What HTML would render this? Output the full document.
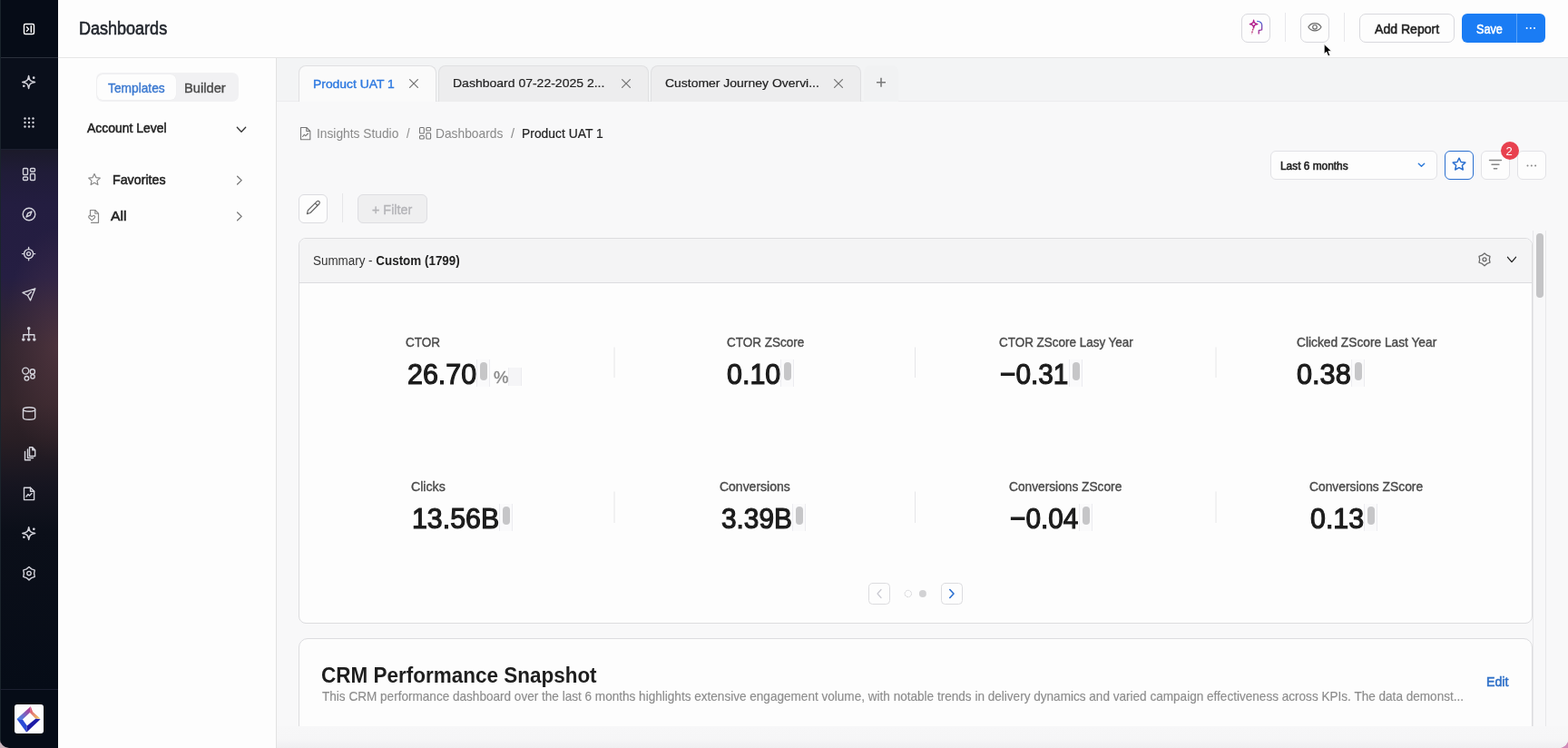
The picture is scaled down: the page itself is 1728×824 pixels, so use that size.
<!DOCTYPE html>
<html><head><meta charset="utf-8">
<style>
*{box-sizing:border-box;margin:0;padding:0}
html,body{width:1728px;height:824px;overflow:hidden}
body{background:linear-gradient(90deg,#c8b2ba 0,#b898b0 50%,#d08ab8 100%);font-family:"Liberation Sans",sans-serif;color:#222;position:relative}
.abs{position:absolute}
#side{left:0;top:0;width:64px;height:824px;border-bottom-left-radius:10px;overflow:hidden;
 background:#060c17}
#side .grad{left:0;top:165px;width:64px;height:594px;
 background:
 radial-gradient(ellipse 60px 130px at 64px 215px, rgba(130,80,90,.32), rgba(130,80,90,0) 100%),
 linear-gradient(180deg,#1b1a2a 0px,#201c38 25px,#231d40 60px,#251e42 140px,#2c2238 175px,#32252f 215px,#32242a 280px,#281e24 320px,#161520 370px,#0b0f19 420px,#060c17 594px)}
#side .ln{left:0;width:64px;height:1px;background:#2b303c}
#side svg{position:absolute}
#main{left:64px;top:0;width:1664px;height:824px;background:#f7f7f8;border-bottom-right-radius:10px;overflow:hidden}
#hdr{left:0;top:0;width:1664px;height:64px;background:#fdfdfd;border-bottom:1px solid #e6e6e6}
#lp{left:0;top:64px;width:241px;height:760px;background:#fdfdfd;border-right:1px solid #e2e2e2}
#ct{left:241px;top:64px;width:1423px;height:760px;background:#f8f8f9}
.t{position:absolute;white-space:nowrap;line-height:1;z-index:2}
.btn{position:absolute;border:1px solid #d9d9de;border-radius:6px;background:#fdfdfd}
svg{position:absolute;overflow:visible}
.lab{font-size:14.5px;color:#4a4a4a;-webkit-text-stroke:0.4px #4a4a4a}
.val{font-size:32px;font-weight:normal;-webkit-text-stroke:1.2px #1c1c1c;color:#1c1c1c}
.pill{position:absolute;width:8px;height:20px;border-radius:4px;background:#c6c6c8}
.pbox{position:absolute;border-left:1px solid #ececf0;border-right:1px solid #ececf0;background:#fafafb}
.tab{border:1px solid #e0e0e2;border-bottom:none;border-radius:8px 8px 0 0}
</style></head><body>
<!-- SIDEBAR -->
<div id="side" class="abs">
  <div class="abs" style="left:0;top:64px;width:64px;height:100px;background:#0a0f1b"></div>
  <div class="grad abs"></div>
  <div class="ln abs" style="top:63px"></div>
  <div class="abs" style="left:0;top:0;width:1px;height:824px;background:#1a242c"></div>
  <div class="ln abs" style="top:164px;background:#1c2030"></div>
  <div class="ln abs" style="top:759px;background:#1c2030"></div>
  <svg width="64" height="824" style="left:0;top:0" fill="none" stroke="#d4d4dc" stroke-width="1.4" stroke-linecap="round" stroke-linejoin="round">
    <!-- collapse -->
    <rect x="26.5" y="26.5" width="11" height="11" rx="1.5" stroke="#fff" stroke-width="1.4"/>
    <path d="M29.5 29.8 L31.6 32 L29.5 34.2" stroke="#fff" stroke-width="1.3"/>
    <path d="M34.3 28.8 V35.2" stroke="#fff" stroke-width="1.5"/>
    <!-- sparkle 1 -->
    <path d="M31.6 83.6 C32.2 88.3 33.2 89.6 38.5 90.5 C33.2 91.4 32.2 92.7 31.6 97.4 C31 92.7 30 91.4 24.7 90.5 C30 89.6 31 88.3 31.6 83.6Z" stroke-width="1.5"/>
    <circle cx="37.2" cy="85.7" r="1.35" fill="#d4d4dc" stroke="none"/>
    <circle cx="26.3" cy="94.7" r="1.3" fill="#d4d4dc" stroke="none"/>
    <!-- grid dots -->
    <g fill="#d4d4dc" stroke="none">
      <circle cx="27.5" cy="130.5" r="1.2"/><circle cx="32" cy="130.5" r="1.2"/><circle cx="36.5" cy="130.5" r="1.2"/>
      <circle cx="27.5" cy="135" r="1.2"/><circle cx="32" cy="135" r="1.2"/><circle cx="36.5" cy="135" r="1.2"/>
      <circle cx="27.5" cy="139.5" r="1.2"/><circle cx="32" cy="139.5" r="1.2"/><circle cx="36.5" cy="139.5" r="1.2"/>
    </g>
    <!-- dashboards -->
    <rect x="25.5" y="185.5" width="5" height="7" rx="1"/>
    <rect x="33.5" y="185.5" width="5" height="3.5" rx="1"/>
    <rect x="25.5" y="195" width="5" height="3.5" rx="1"/>
    <rect x="33.5" y="191.5" width="5" height="7" rx="1"/>
    <!-- compass -->
    <circle cx="32" cy="236" r="6.8"/>
    <path d="M35 233 L33.2 237.2 L29 239 L30.8 234.8Z"/>
    <!-- target -->
    <circle cx="31.6" cy="279.6" r="5"/>
    <circle cx="31.6" cy="279.6" r="2"/>
    <path d="M31.6 272.5 V274.6 M31.6 284.6 V286.7 M24.5 279.6 H26.6 M36.6 279.6 H38.7"/>
    <!-- send -->
    <path d="M38.8 317.8 L25 322.5 L30.5 325.5 L33.5 331 Z M30.5 325.5 L34.5 321.5"/>
    <!-- hierarchy -->
    <g fill="#d4d4dc" stroke="none">
      <circle cx="31.7" cy="361.7" r="1.8"/>
      <circle cx="25.8" cy="374" r="1.8"/><circle cx="31.7" cy="374" r="1.8"/><circle cx="37.8" cy="374" r="1.8"/>
    </g>
    <path d="M31.7 363.5 V371.5 M25.8 371.5 V368.8 H37.8 V371.5"/>
    <!-- circles -->
    <circle cx="28.2" cy="408.6" r="3.5"/>
    <circle cx="35.8" cy="409.4" r="2.6"/>
    <circle cx="29.4" cy="416.8" r="2.3"/>
    <circle cx="36" cy="414.8" r="2.2"/>
    <!-- database -->
    <ellipse cx="32.1" cy="451" rx="6.6" ry="2.2"/>
    <path d="M25.5 451 V460 C25.5 463 38.7 463 38.7 460 V451"/>
    <!-- copies -->
    <path d="M32.5 492.8 H35.8 L38.7 495.7 V502.5 H32.5 Z M35.8 492.8 V495.7 H38.7"/>
    <path d="M30.5 495 V504.5 H36.5"/>
    <path d="M27.5 497.5 V506.8 H33.5"/>
    <!-- report -->
    <path d="M26.5 537.2 H33.5 L37.6 541.3 V550.6 H26.5 Z"/>
    <path d="M33.5 537.2 V541.3 H37.6"/>
    <path d="M29 547 L31 544.5 L32.5 546 L35 543.5"/>
    <!-- sparkle 2 -->
    <path d="M31.7 580.7 C32.3 585.4 33.3 586.7 38.6 587.6 C33.3 588.5 32.3 589.8 31.7 594.5 C31.1 589.8 30.1 588.5 24.8 587.6 C30.1 586.7 31.1 585.4 31.7 580.7Z" stroke-width="1.5"/>
    <circle cx="37.3" cy="582.8" r="1.35" fill="#d4d4dc" stroke="none"/>
    <circle cx="26.4" cy="591.8" r="1.3" fill="#d4d4dc" stroke="none"/>
    <!-- gear -->
    <path d="M32.00 624.50 L34.80 626.85 L38.24 628.10 L37.60 631.70 L38.24 635.30 L34.80 636.55 L32.00 638.90 L29.20 636.55 L25.76 635.30 L26.40 631.70 L25.76 628.10 L29.20 626.85 Z"/>
    <circle cx="32" cy="631.6" r="2.2"/>
  </svg>
  <!-- logo -->
  <div class="abs" style="left:16px;top:776px;width:32px;height:32px;background:#fdfdfd;border-radius:3px"></div>
  <svg width="64" height="824" style="left:0;top:0">
    <defs>
      <linearGradient id="lgA" x1="0" y1="1" x2="1" y2="0"><stop offset="0" stop-color="#3a8ef0"/><stop offset="1" stop-color="#c2308a"/></linearGradient>
      <linearGradient id="lgB" x1="0" y1="0" x2="1" y2="1"><stop offset="0" stop-color="#d8407a"/><stop offset="1" stop-color="#f2d060"/></linearGradient>
    </defs>
    <polygon points="18.5,792.1 33.8,778.2 32.9,785 24.9,792.4" fill="url(#lgA)"/>
    <polygon points="33.8,778.2 36.2,784.2 44.3,791.4 39.3,791.8 32.9,785" fill="url(#lgB)"/>
    <polygon points="18.5,792.1 24.9,792.4 29.8,799.6 29.2,806.8" fill="#2a4ad6"/>
    <polygon points="29.2,806.8 29.8,799.6 39.3,791.8 44.6,792.3" fill="#1c1aa6"/>
  </svg>
</div>
<div id="main" class="abs">
  <div id="hdr" class="abs">
    <div class="t" id="tDash" style="left:23.46px;top:21.30px;font-size:20px;font-weight:normal;-webkit-text-stroke:0.6px currentColor;color:#22262d;transform:scaleX(0.9009);transform-origin:0 0">Dashboards</div>
    <div class="btn" style="left:1304px;top:15px;width:32px;height:32px;border-radius:7px"></div>
    <div class="abs" style="left:1352px;top:14px;width:1px;height:32px;background:#e8e8ec"></div>
    <div class="btn" style="left:1369px;top:15px;width:32px;height:32px;border-radius:7px"></div>
    <div class="abs" style="left:1417px;top:14px;width:1px;height:32px;background:#e8e8ec"></div>
    <div class="btn" style="left:1434px;top:15px;width:105px;height:32px;border-radius:7px"></div>
    <div class="t" id="tAdd" style="left:1451.40px;top:23.80px;font-size:15px;font-weight:normal;-webkit-text-stroke:0.55px currentColor;color:#222;transform:scaleX(0.9381);transform-origin:0 0">Add Report</div>
    <div class="abs" style="left:1547px;top:15px;width:92px;height:32px;border-radius:6px;background:#1a7cf4"></div>
    <div class="abs" style="left:1607px;top:15px;width:1px;height:32px;background:#5aa2f8"></div>
    <div class="t" id="tSave" style="left:1563.15px;top:23.50px;font-size:15px;font-weight:normal;-webkit-text-stroke:0.55px currentColor;color:#fff;transform:scaleX(0.8442);transform-origin:0 0">Save</div>
    <svg width="1664" height="64" style="left:0;top:0">
      <g fill="#fff"><circle cx="1618.6" cy="31" r="1"/><circle cx="1622.8" cy="31" r="1"/><circle cx="1627" cy="31" r="1"/></g>
      <!-- eye -->
      <path d="M1377.9 29.8 C1381 24.3 1389 24.3 1392 29.8 C1389 35.3 1381 35.3 1377.9 29.8Z" fill="none" stroke="#6a6a6a" stroke-width="1.2"/>
      <circle cx="1385" cy="29.8" r="2.3" fill="none" stroke="#6a6a6a" stroke-width="1.2"/>
      <!-- AI icon -->
      <defs><linearGradient id="aiG" x1="0" y1="0" x2="0" y2="1"><stop offset="0" stop-color="#4a6ad8"/><stop offset="1" stop-color="#b0208a"/></linearGradient></defs>
      <path d="M1317.6 22.3 C1318 25.3 1318.6 26 1321.8 26.6 C1318.6 27.2 1318 27.9 1317.6 30.9 C1317.2 27.9 1316.6 27.2 1313.4 26.6 C1316.6 26 1317.2 25.3 1317.6 22.3Z" fill="none" stroke="#b01e8c" stroke-width="1.4" stroke-linejoin="round"/>
      <path d="M1317 31.6 L1315.4 37.4" stroke="#b8286e" stroke-width="1.3" stroke-dasharray="2 0.9"/>
      <path d="M1321.2 23.3 C1325 23.2 1326.8 25.5 1326.7 28 L1326.6 32.8 L1323.3 33.5 L1323.2 37.4" fill="none" stroke="url(#aiG)" stroke-width="1.3"/>
      <!-- cursor -->
      <path d="M1395.2 48.6 L1395.2 59.6 L1397.8 57.2 L1399.7 61.8 L1401.8 60.9 L1399.9 56.4 L1403.4 56.2 Z" fill="#000" stroke="#fff" stroke-width="0.9" stroke-linejoin="round"/>
    </svg>
  </div>
  <div id="lp" class="abs">
    <div class="abs" style="left:42px;top:16px;width:157px;height:32px;border-radius:7px;background:#f1f1f3"></div>
    <div class="abs" style="left:43px;top:18px;width:87px;height:28px;border-radius:6px;background:#fdfdfd;box-shadow:0 0 1px rgba(0,0,0,.08)"></div>
    <div class="t" id="tTpl" style="left:54.88px;top:24.70px;font-size:15px;color:#3a78d0;font-weight:normal;-webkit-text-stroke:0.4px currentColor;transform:scaleX(0.9176);transform-origin:0 0">Templates</div>
    <div class="t" id="tBld" style="left:139.12px;top:24.70px;font-size:15px;color:#4a4a4a;font-weight:normal;-webkit-text-stroke:0.4px currentColor;transform:scaleX(0.9783);transform-origin:0 0">Builder</div>
    <div class="t" id="tAcc" style="left:31.93px;top:68.60px;font-size:15px;font-weight:normal;-webkit-text-stroke:0.55px currentColor;color:#222;transform:scaleX(0.9288);transform-origin:0 0">Account Level</div>
    <div class="t" id="tFav" style="left:59.55px;top:125.80px;font-size:15px;font-weight:normal;-webkit-text-stroke:0.55px currentColor;color:#222;transform:scaleX(0.9492);transform-origin:0 0">Favorites</div>
    <div class="t" id="tAll" style="left:58.17px;top:165.80px;font-size:15px;font-weight:normal;-webkit-text-stroke:0.55px currentColor;color:#222;transform:scaleX(1.0511);transform-origin:0 0">All</div>
    <svg width="241" height="300" style="left:0;top:0" fill="none" stroke="#444" stroke-width="1.3" stroke-linecap="round" stroke-linejoin="round">
      <path d="M197.3 76.3 L202 81.3 L206.7 76.3" stroke="#333"/>
      <path d="M197.6 130.2 L202.2 134.6 L197.6 139" stroke="#777"/>
      <path d="M197.6 170 L202.2 174.4 L197.6 178.8" stroke="#777"/>
      <!-- star -->
      <path d="M40 127.5 L41.9 131.6 L46.3 132.1 L43 135.1 L43.9 139.5 L40 137.3 L36.1 139.5 L37 135.1 L33.7 132.1 L38.1 131.6 Z" stroke="#888" stroke-width="1.2"/>
      <!-- all icon -->
      <path d="M35.5 173.5 V167.5 H40.8 L44.5 171.2 V181.3 H36.5" stroke="#888" stroke-width="1.2"/>
      <path d="M40.8 167.5 V171.2 H44.5" stroke="#888" stroke-width="1.1"/>
      <path d="M37.2 178.8 L34.2 176 C33 174.8 34 173.2 35.3 173.6 L37.2 174.6 L39.1 173.6 C40.4 173.2 41.4 174.8 40.2 176 Z" stroke="#888" stroke-width="1.1"/>
    </svg>
  </div>
  <div id="ct" class="abs"></div>
  <div id="L" class="abs" style="left:-64px;top:0;width:1728px;height:824px">
    <div class="abs" style="left:305px;top:64px;width:1423px;height:48px;background:#f3f4f5;border-bottom:1px solid #ececee"></div>
    <!-- tabs -->
    <div class="abs tab" style="left:329px;top:72px;width:152px;height:40px;background:#fafafa"></div>
    <div class="abs tab" style="left:483px;top:72px;width:232px;height:40px;background:#ededee"></div>
    <div class="abs tab" style="left:717px;top:72px;width:232px;height:40px;background:#ededee"></div>
    <div class="abs" style="left:952px;top:72px;width:38px;height:40px;background:#f1f2f3;border-radius:8px 8px 0 0"></div>
    <div class="t" id="tT1" style="left:345.29px;top:85.70px;font-size:13.5px;color:#2f7ae0;font-weight:normal;-webkit-text-stroke:0.4px currentColor;transform:scaleX(1.0291);transform-origin:0 0">Product UAT 1</div>
    <div class="t" id="tT2" style="left:498.84px;top:84.90px;font-size:13.5px;color:#222;transform:scaleX(1.0371);transform-origin:0 0;-webkit-text-stroke:0.2px currentColor">Dashboard 07-22-2025 2...</div>
    <div class="t" id="tT3" style="left:733.02px;top:84.90px;font-size:13.5px;color:#222;transform:scaleX(1.0338);transform-origin:0 0;-webkit-text-stroke:0.2px currentColor">Customer Journey Overvi...</div>
    <svg width="1728" height="824" style="left:0;top:0" fill="none" stroke-linecap="round" stroke-linejoin="round">
      <path d="M451.6 87.6 L460.4 96.4 M460.4 87.6 L451.6 96.4" stroke="#777" stroke-width="1.3"/>
      <path d="M685.6 87.6 L694.4 96.4 M694.4 87.6 L685.6 96.4" stroke="#777" stroke-width="1.3"/>
      <path d="M919.6 87.6 L928.4 96.4 M928.4 87.6 L919.6 96.4" stroke="#777" stroke-width="1.3"/>
      <path d="M971 85.8 V95.8 M966 90.8 H976" stroke="#7a7a7a" stroke-width="1.6" stroke-linecap="butt"/>
    </svg>
    <!-- breadcrumb -->
    <div class="t" id="tB1" style="left:348.86px;top:140.30px;font-size:14.5px;color:#8a8a8a;transform:scaleX(0.9496);transform-origin:0 0">Insights Studio</div>
    <div class="t" id="tS1" style="left:447.89px;top:140.30px;font-size:14.5px;color:#8a8a8a;transform:scaleX(0.8932);transform-origin:0 0">/</div>
    <div class="t" id="tB2" style="left:479.89px;top:140.30px;font-size:14.5px;color:#8a8a8a;transform:scaleX(0.9500);transform-origin:0 0">Dashboards</div>
    <div class="t" id="tS2" style="left:563.00px;top:140.30px;font-size:14.5px;color:#8a8a8a;transform:scaleX(1.0000);transform-origin:0 0">/</div>
    <div class="t" id="tB3" style="left:574.98px;top:140.30px;font-size:14.5px;color:#222;transform:scaleX(0.9571);transform-origin:0 0;-webkit-text-stroke:0.2px currentColor">Product UAT 1</div>
    <svg width="1728" height="824" style="left:0;top:0" fill="none" stroke="#777" stroke-width="1.1" stroke-linecap="round" stroke-linejoin="round">
      <path d="M331.5 140.5 H337.8 L341.8 144.5 V153.7 H331.5 Z M337.8 140.5 V144.5 H341.8"/>
      <path d="M333.5 150.5 L335.3 148.3 L336.8 149.6 L339.5 147"/>
      <rect x="462.5" y="140.5" width="4.8" height="6.5" rx="1"/>
      <rect x="469.8" y="140.5" width="4.8" height="3.5" rx="1"/>
      <rect x="462.5" y="149.5" width="4.8" height="3.5" rx="1"/>
      <rect x="469.8" y="146.5" width="4.8" height="6.5" rx="1"/>
    </svg>
    <!-- toolbar -->
    <div class="btn" style="left:1400px;top:166px;width:184px;height:32px;border-color:#e2e2e6"></div>
    <div class="t" id="tL6" style="left:1411.21px;top:176.70px;font-size:12px;font-weight:normal;-webkit-text-stroke:0.55px currentColor;color:#222;transform:scaleX(0.9895);transform-origin:0 0">Last 6 months</div>
    <div class="btn" style="left:1592px;top:166px;width:32px;height:32px;border:1.5px solid #2a6fd0;border-radius:6px"></div>
    <div class="btn" style="left:1632px;top:166px;width:32px;height:32px;border-color:#e2e2e6"></div>
    <div class="btn" style="left:1672px;top:166px;width:32px;height:32px;border-color:#e2e2e6"></div>
    <div class="abs" style="left:1654px;top:156px;width:20px;height:20px;border-radius:50%;background:#e8414f"></div>
    <div class="t" id="tBadge" style="left:1659.5px;top:160px;font-size:13px;color:#fff">2</div>
    <svg width="1728" height="824" style="left:0;top:0" fill="none" stroke-linecap="round" stroke-linejoin="round">
      <path d="M1563.3 180.3 L1566.5 183.3 L1569.7 180.3" stroke="#2a78d8" stroke-width="1.4"/>
      <path d="M1608 174.2 L1610.1 178.5 L1614.8 179.1 L1611.4 182.3 L1612.3 187 L1608 184.7 L1603.7 187 L1604.6 182.3 L1601.2 179.1 L1605.9 178.5 Z" stroke="#2a6fd0" stroke-width="1.5"/>
      <path d="M1641.5 176.5 H1654.5 M1644 181.3 H1652 M1646.3 185.8 H1649.7" stroke="#888" stroke-width="1.4"/>
      <g fill="#888" stroke="none"><circle cx="1683.5" cy="182.6" r="1"/><circle cx="1687.8" cy="182.6" r="1"/><circle cx="1692.1" cy="182.6" r="1"/></g>
    </svg>
    <!-- summary card -->
    <div class="abs" style="left:329px;top:262px;width:1360px;height:425px;border:1px solid #dcdcdf;border-radius:8px;background:#fdfdfd;overflow:hidden">
      <div class="abs" style="left:0;top:0;width:1358px;height:49px;background:#f4f4f5;border-bottom:1px solid #dcdcdf"></div>
    </div>
    <div class="t" id="tSum" style="left:344.99px;top:279.90px;font-size:14px;color:#333;transform:scaleX(0.9581);transform-origin:0 0">Summary - <b style="color:#222">Custom (1799)</b></div>
    <svg width="1728" height="824" style="left:0;top:0" fill="none" stroke-linecap="round" stroke-linejoin="round">
      <path d="M1636.00 278.90 L1638.65 281.21 L1641.98 282.35 L1641.30 285.80 L1641.98 289.25 L1638.65 290.39 L1636.00 292.70 L1633.35 290.39 L1630.02 289.25 L1630.70 285.80 L1630.02 282.35 L1633.35 281.21 Z" stroke="#6a6a6a" stroke-width="1.3"/>
      <circle cx="1636" cy="285.8" r="2" stroke="#6a6a6a" stroke-width="1.3"/>
      <path d="M1661.5 283.3 L1666 288.6 L1670.5 283.3" stroke="#222" stroke-width="1.3"/>
      <!-- dividers -->
      <path d="M677 382.5 V416 M1008.5 382.5 V416 M1340 382.5 V416 M677 541.5 V576 M1008.5 541.5 V576 M1340 541.5 V576" stroke="#e6e6e8" stroke-width="1" stroke-linecap="butt"/>
      <!-- pager -->
      <rect x="957.5" y="642.5" width="23" height="23" rx="4" stroke="#dcdcdf" stroke-width="1"/>
      <rect x="1037.5" y="642.5" width="23" height="23" rx="4" stroke="#dcdcdf" stroke-width="1"/>
      <path d="M971 649.5 L967 654 L971 658.5" stroke="#c8c8d0" stroke-width="1.2"/>
      <path d="M1046.8 649.5 L1051 654 L1046.8 658.5" stroke="#2a6fd0" stroke-width="1.6"/>
      <circle cx="1000.8" cy="654" r="3.7" stroke="#d0d0d4" stroke-width="0.9" stroke-dasharray="1.5 1.3"/>
      <circle cx="1016.9" cy="654" r="4" fill="#d2d2d4" stroke="none"/>
    </svg>
    <!-- metrics -->
    <div class="t lab" id="m1l" style="left:447.48px;top:369.70px;transform:scaleX(0.9334);transform-origin:0 0">CTOR</div>
    <div class="t val" id="m1v" style="left:448.80px;top:396.40px;transform:scaleX(0.9501);transform-origin:0 0">26.70</div>
    <div class="t lab" id="m2l" style="left:800.75px;top:369.70px;transform:scaleX(0.9320);transform-origin:0 0">CTOR ZScore</div>
    <div class="t val" id="m2v" style="left:800.70px;top:396.40px;transform:scaleX(0.9511);transform-origin:0 0">0.10</div>
    <div class="t lab" id="m3l" style="left:1100.78px;top:369.70px;transform:scaleX(0.9278);transform-origin:0 0">CTOR ZScore Lasy Year</div>
    <div class="t val" id="m3v" style="left:1102.28px;top:396.40px;transform:scaleX(0.9301);transform-origin:0 0">&minus;0.31</div>
    <div class="t lab" id="m4l" style="left:1428.55px;top:369.70px;transform:scaleX(0.9473);transform-origin:0 0">Clicked ZScore Last Year</div>
    <div class="t val" id="m4v" style="left:1429.16px;top:396.40px;transform:scaleX(0.9583);transform-origin:0 0">0.38</div>
    <div class="t lab" id="m5l" style="left:453.47px;top:528.70px;transform:scaleX(0.9766);transform-origin:0 0">Clicks</div>
    <div class="t val" id="m5v" style="left:454.40px;top:554.90px;transform:scaleX(0.9476);transform-origin:0 0">13.56B</div>
    <div class="t lab" id="m6l" style="left:793.47px;top:528.70px;transform:scaleX(0.9637);transform-origin:0 0">Conversions</div>
    <div class="t val" id="m6v" style="left:795.23px;top:554.90px;transform:scaleX(0.9318);transform-origin:0 0">3.39B</div>
    <div class="t lab" id="m7l" style="left:1112.20px;top:528.70px;transform:scaleX(0.9462);transform-origin:0 0">Conversions ZScore</div>
    <div class="t val" id="m7v" style="left:1113.29px;top:554.90px;transform:scaleX(0.9301);transform-origin:0 0">&minus;0.04</div>
    <div class="t lab" id="m8l" style="left:1442.89px;top:528.70px;transform:scaleX(0.9523);transform-origin:0 0">Conversions ZScore</div>
    <div class="t val" id="m8v" style="left:1444.20px;top:554.90px;transform:scaleX(0.9492);transform-origin:0 0">0.13</div>
    <div class="t" id="mPct" style="left:543.53px;top:405.50px;font-size:19px;color:#8a8a8a;-webkit-text-stroke:0.4px #8a8a8a;transform:scaleX(0.9679);transform-origin:0 0">%</div>
    <!-- pills -->
    <div class="pbox" style="left:525px;top:396px;width:15px;height:30px"></div><div class="pill" style="left:529px;top:399px"></div>
    <div class="pbox" style="left:560px;top:405px;width:15px;height:20px;background:#f5f5f7"></div>
    <div class="pbox" style="left:860px;top:396px;width:15px;height:30px"></div><div class="pill" style="left:864px;top:399px"></div>
    <div class="pbox" style="left:1178px;top:396px;width:15px;height:30px"></div><div class="pill" style="left:1182px;top:399px"></div>
    <div class="pbox" style="left:1489px;top:396px;width:15px;height:30px"></div><div class="pill" style="left:1493px;top:399px"></div>
    <div class="pbox" style="left:550px;top:555px;width:15px;height:30px"></div><div class="pill" style="left:554px;top:558px"></div>
    <div class="pbox" style="left:873px;top:555px;width:15px;height:30px"></div><div class="pill" style="left:877px;top:558px"></div>
    <div class="pbox" style="left:1189px;top:555px;width:15px;height:30px"></div><div class="pill" style="left:1193px;top:558px"></div>
    <div class="pbox" style="left:1503px;top:555px;width:15px;height:30px"></div><div class="pill" style="left:1507px;top:558px"></div>
    <!-- CRM card -->
    <div class="abs" style="left:329px;top:703px;width:1360px;height:140px;border:1px solid #dcdcdf;border-radius:10px;background:#fdfdfd"></div>
    <div class="t" id="tCrm" style="left:353.74px;top:733.00px;font-size:23.5px;font-weight:bold;color:#1e1e1e;transform:scaleX(0.9568);transform-origin:0 0">CRM Performance Snapshot</div>
    <div class="t" id="tDesc" style="left:354.69px;top:760.00px;font-size:14.5px;color:#8c8c8c;transform:scaleX(0.9356);transform-origin:0 0;-webkit-text-stroke:0.15px currentColor">This CRM performance dashboard over the last 6 months highlights extensive engagement volume, with notable trends in delivery dynamics and varied campaign effectiveness across KPIs. The data demonst...</div>
    <div class="t" id="tEdit" style="left:1637.97px;top:743.10px;font-size:15px;font-weight:normal;-webkit-text-stroke:0.6px currentColor;color:#2f70c8;transform:scaleX(0.9449);transform-origin:0 0">Edit</div>
    <!-- bottom strip -->
    <div class="abs" style="left:305px;top:800px;width:1423px;height:24px;background:linear-gradient(180deg,#f7f7f8 0,#f6f6f7 14px,#efeff1 24px)"></div>
    <!-- scrollbar -->
    <div class="abs" style="left:1689px;top:254px;width:15px;height:546px;border-left:1px solid #e8e8ea;border-right:1px solid #e8e8ea;background:#f8f8f9"></div>
    <div class="abs" style="left:1693px;top:257px;width:8px;height:71px;border-radius:4px;background:#c4c4c6"></div>
    <!-- edit / filter -->
    <div class="btn" style="left:329px;top:214px;width:32px;height:32px;border-color:#dcdce0"></div>
    <div class="abs" style="left:377px;top:213px;width:1px;height:32px;background:#e6e6e8"></div>
    <div class="btn" style="left:394px;top:214px;width:77px;height:32px;background:#efeff0;border-color:#dedee2"></div>
    <div class="t" id="tFilt" style="left:410.46px;top:222.90px;font-size:15px;font-weight:normal;-webkit-text-stroke:0.4px currentColor;color:#b4b4b8;transform:scaleX(0.9565);transform-origin:0 0">+ Filter</div>
    <svg width="1728" height="824" style="left:0;top:0" fill="none" stroke="#666" stroke-width="1.2" stroke-linecap="round" stroke-linejoin="round">
      <path d="M338.4 235.6 L339.3 231.8 L349.3 221.9 A1.85 1.85 0 0 1 351.9 224.5 L342 234.5 Z M347.3 223.9 L349.9 226.5"/>
    </svg>
  </div>
</div>
</body></html>
